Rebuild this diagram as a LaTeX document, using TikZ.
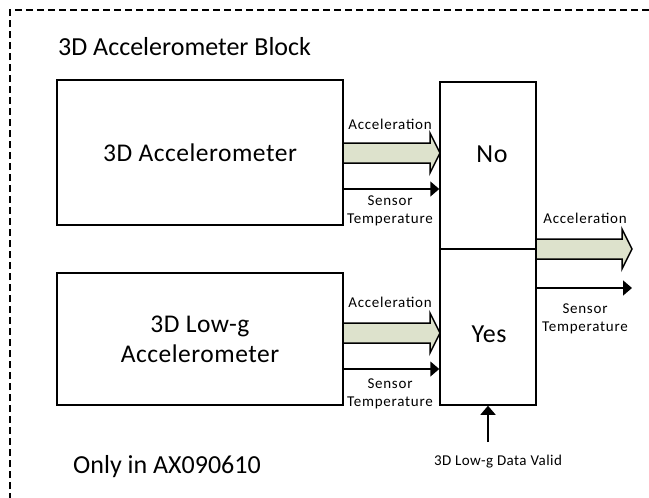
\documentclass[tikz,border=0pt]{standalone}
\usepackage{fontspec}
\setmainfont{Carlito}
\newfontfamily\lblfont[LetterSpace=5]{Carlito}
\newfontfamily\validfont[LetterSpace=3]{Carlito}
\newfontfamily\boxfont[LetterSpace=2]{Carlito}
\usetikzlibrary{arrows.meta,calc}
\definecolor{fatfill}{RGB}{221,226,204}
\tikzset{
  blk/.style={draw, line width=1.5pt, minimum width=286pt, inner sep=0pt, align=center, font=\boxfont\fontsize{25.5}{30}\selectfont},
  swbox/.style={draw, line width=1.5pt, minimum width=96pt, inner sep=0pt},
  swtext/.style={font=\boxfont\fontsize{26}{30}\selectfont, inner sep=0pt},
  lbl/.style={font=\lblfont\fontsize{15}{18}\selectfont, inner sep=0pt, align=center},
  big/.style={font=\fontsize{26}{30}\selectfont, inner sep=0pt, anchor=west},
  thin/.style={line width=1.5pt, -{Triangle[length=9pt,width=15pt]}},
  fat/.style={draw, line width=1.5pt, fill=fatfill, line join=miter}
}
\newcommand\fatarr[3]{% x1, x2, yc
  \path[fat] (#1,#3-10) -- (#2-10,#3-10) -- (#2-10,#3-20) -- (#2,#3) -- (#2-10,#3+20) -- (#2-10,#3+10) -- (#1,#3+10) -- cycle;}
\begin{document}
\begin{tikzpicture}[x=1pt,y=-1pt]
\useasboundingbox (0,0) rectangle (649,498);
\draw[line width=1.3pt, dash pattern=on 7pt off 4pt] (10,500) -- (10,10) -- (651,10);
\node[big] (title) at (58,47) {3D Accelerometer Block};
\node[big] (only) at (73,467) {Only in AX090610};
\node[blk, minimum height=145pt] (acc) at (200,152.5) {3D Accelerometer};
\node[blk, minimum height=132pt] (low) at (200,339) {3D Low-g\\Accelerometer};
\node[swbox, minimum height=167pt] (swno) at (488,165.5) {};
\node[swbox, minimum height=156pt] (swyes) at (488,327) {};
\node[swtext] (no) at (492,154) {No};
\node[swtext] (yes) at (489,334) {Yes};
% top inputs
\fatarr{343}{440}{153}
\draw[thin] (acc.east |- 0,189) -- (swno.west |- 0,189);
\node[lbl] (l1) at (390,124) {Acceleration};
\node[lbl] (l2) at (390,211) {Sensor\\Temperature};
% bottom inputs
\fatarr{343}{440}{333}
\draw[thin] (low.east |- 0,369) -- (swyes.west |- 0,369);
\node[lbl] (l3) at (390,302) {Acceleration};
\node[lbl] (l4) at (390,394) {Sensor\\Temperature};
% outputs
\fatarr{536}{632}{249}
\coordinate (outT) at (632,288);
\draw[thin] (swyes.east |- outT) -- (outT);
\node[lbl] (l5) at (585,218) {Acceleration};
\node[lbl] (l6) at (585,319) {Sensor\\Temperature};
% data valid
\node[font=\validfont\fontsize{15}{18}\selectfont, inner sep=0pt] (valid) at (498,462) {3D Low-g Data Valid};
\coordinate (vstart) at (488,442);
\draw[thin] (vstart) -- (swyes.south);
\end{tikzpicture}
\end{document}
